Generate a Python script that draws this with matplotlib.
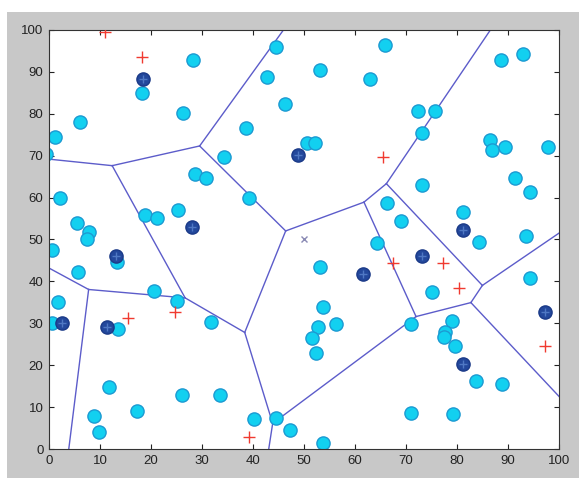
import numpy as np
import matplotlib
matplotlib.use("Agg")
import matplotlib.pyplot as plt
from matplotlib.patches import Rectangle

# Sample points
pts_x = [44.5, 53.1, 62.9, 42.8, 46.3, 38.7, 50.5, 52.2, 34.3, 18.2, 28.2, 26.2, 6.1, 1.2,
         65.9, 88.6, 93.0, 72.4, 75.7, 73.1, 86.5, 86.9, 89.4, 97.9, 28.6, 30.8, 2.2, 25.2,
         18.8, 21.1, 5.5, 7.9, 7.4, 0.5, 13.3, 5.7, 20.5, 25.1, 1.7, 39.3, 53.1, 64.3, 73.1,
         91.4, 94.3, 66.3, 69.0, 81.1, 84.4, 93.5, 75.0, 94.3, 0.6, 13.6, 31.7, 11.8, 8.8,
         9.9, 17.2, 26.0, 33.5, 53.7, 52.8, 51.5, 56.3, 52.4, 40.2, 44.6, 47.3, 53.7, 70.9,
         79.0, 77.6, 77.5, 79.6, 83.7, 88.8, 70.9, 79.2, -0.6]
pts_y = [95.9, 90.5, 88.2, 88.9, 82.3, 76.5, 73.0, 73.1, 69.8, 85.0, 92.8, 80.1, 78.1, 74.5,
         96.4, 92.8, 94.2, 80.7, 80.7, 75.5, 73.7, 71.4, 72.0, 72.0, 65.6, 64.6, 59.8, 57.0,
         55.8, 55.2, 53.9, 51.9, 50.0, 47.5, 44.7, 42.2, 37.7, 35.4, 35.0, 59.8, 43.4, 49.1,
         63.0, 64.6, 61.4, 58.6, 54.3, 56.6, 49.5, 50.8, 37.4, 40.7, 30.0, 28.6, 30.2, 14.7,
         7.9, 4.1, 9.1, 12.9, 12.9, 34.0, 29.0, 26.6, 29.8, 22.8, 7.2, 7.3, 4.5, 1.4, 29.8,
         30.6, 28.0, 26.8, 24.6, 16.2, 15.5, 8.7, 8.3, 70.4]

# Cluster centres (Voronoi sites)
site_x = [18.4, 13.1, 28.1, 2.5, 11.3, 48.9, 61.6, 73.1, 81.1, 97.3, 81.1]
site_y = [88.3, 46.1, 52.9, 30.0, 29.1, 70.2, 41.8, 46.1, 52.3, 32.8, 20.3]

# Initial seeds
seed_x = [11.0, 18.2, 15.4, 24.7, 39.3, 65.5, 67.4, 77.2, 80.3, 97.3]
seed_y = [99.6, 93.5, 31.2, 32.8, 2.9, 69.8, 44.5, 44.5, 38.4, 24.6]

# Overall mean
mean_x = [50.0]
mean_y = [50.0]

tick_vals = [0, 10, 20, 30, 40, 50, 60, 70, 80, 90, 100]


def clip_halfplane(poly, a, b, c):
    """Keep the part of a convex polygon where a*x + b*y <= c."""
    out = []
    n = len(poly)
    for k in range(n):
        p = poly[k]
        q = poly[(k + 1) % n]
        fp = a * p[0] + b * p[1] - c
        fq = a * q[0] + b * q[1] - c
        if fp <= 0:
            out.append(p)
        if (fp < 0 < fq) or (fq < 0 < fp):
            t = fp / (fp - fq)
            out.append((p[0] + t * (q[0] - p[0]), p[1] + t * (q[1] - p[1])))
    return out


def voronoi_edges(xs, ys, big=1000.0):
    sites = np.column_stack([xs, ys])
    edges = []
    for i, si in enumerate(sites):
        poly = [(-big, -big), (big, -big), (big, big), (-big, big)]
        for j, sj in enumerate(sites):
            if i == j:
                continue
            d = sj - si
            m = (si + sj) / 2.0
            poly = clip_halfplane(poly, d[0], d[1], float(m @ d))
        n = len(poly)
        for k in range(n):
            p = np.array(poly[k])
            q = np.array(poly[(k + 1) % n])
            mid = (p + q) / 2.0
            if np.any(np.abs(mid) > big - 1e-6):
                continue
            dist = np.hypot(*(sites - mid).T)
            order = np.argsort(dist)
            other = order[1] if order[0] == i else order[0]
            if other > i:
                edges.append((p, q))
    return edges


fig = plt.figure(figsize=(5.79, 4.78), dpi=100)
fig.patch.set_facecolor("white")
fig.patches.append(Rectangle((7 / 579, 0), 1, (478 - 12) / 478, transform=fig.transFigure,
                             facecolor="#c8c8c8", edgecolor="none", zorder=-10))

ax = fig.add_axes([49 / 579, 29 / 478, 510 / 579, 419 / 478])
ax.set_facecolor("white")

for p, q in voronoi_edges(site_x, site_y):
    ax.plot([p[0], q[0]], [p[1], q[1]], color="#5c5cca", lw=1.0, zorder=1)

ax.plot(pts_x, pts_y, "o", ms=9.5, mfc="#12d0f0", mec="#1c9ad2", mew=1.0, zorder=2)
ax.plot(site_x, site_y, "o", ms=9.5, mfc="#23489c", mec="#1b3a88", mew=1.0, zorder=3)
ax.plot(site_x, site_y, "+", ms=6, color="#4f78c4", mew=1.0, zorder=4)
ax.plot(seed_x, seed_y, "+", ms=8, color="#f03a30", mew=1.0, zorder=4)
ax.plot(mean_x, mean_y, "x", ms=4.5, color="#8a8ab4", mew=1.0, zorder=4)

ax.set_xlim(0, 100)
ax.set_ylim(0, 100)
ax.set_xticks(tick_vals)
ax.set_yticks(tick_vals)
ax.set_xticklabels([str(v) for v in tick_vals])
ax.set_yticklabels([str(v) for v in tick_vals])
ax.tick_params(direction="in", length=3.5, width=0.8, top=True, right=True,
               labelsize=9.5, colors="#222222", pad=4)
for lab in ax.get_xticklabels() + ax.get_yticklabels():
    lab.set_family("Liberation Sans")
for s in ax.spines.values():
    s.set_color("#333333")
    s.set_linewidth(0.8)

fig.savefig("out.png", dpi=100, facecolor=fig.get_facecolor())
